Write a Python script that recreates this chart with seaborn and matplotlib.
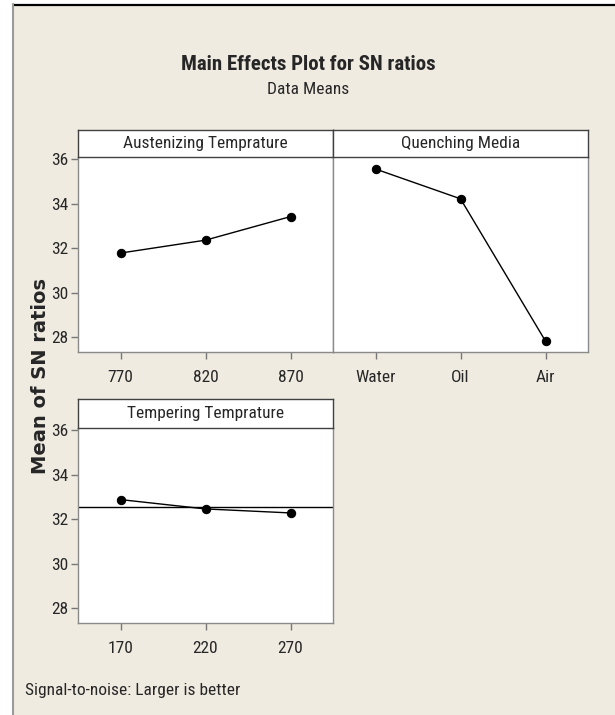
import numpy as np
import pandas as pd
import matplotlib
matplotlib.use('Agg')
import matplotlib.pyplot as plt
import seaborn as sns
from matplotlib import font_manager
from matplotlib.patches import Rectangle
from matplotlib.lines import Line2D

# --- data ---
austenizing_levels = ['770', '820', '870']
austenizing_sn = [31.78, 32.36, 33.42]
quenching_levels = ['Water', 'Oil', 'Air']
quenching_sn = [35.56, 34.22, 27.82]
tempering_levels = ['170', '220', '270']
tempering_sn = [32.88, 32.46, 32.28]
y_ticks = [28, 30, 32, 34, 36]

sns.set_theme(style='white')

# pick a narrow face if one is there, Minitab uses a condensed Tahoma look
installed = {f.name for f in font_manager.fontManager.ttflist}
narrow = None
for cand in ['Liberation Sans Narrow', 'Roboto Condensed', 'Open Sans Condensed',
             'Noto Sans Condensed', 'DejaVu Sans Condensed', 'Liberation Sans']:
    if cand in installed:
        narrow = cand
        break
plt.rcParams['font.family'] = [narrow or 'DejaVu Sans', 'DejaVu Sans']
is_narrow = narrow is not None and narrow != 'Liberation Sans'
fs = 12.5 if is_narrow else 10.5

BG = '#EFEBE1'
W, H = 615, 715
fig = plt.figure(figsize=(6.15, 7.15), dpi=100, facecolor='white')


def box(x0, y0, x1, y1):
    # pixel box (top-left origin) -> figure fraction rect
    return [x0 / W, 1 - y1 / H, (x1 - x0) / W, (y1 - y0) / H]


# window-like frame
fig.patches.append(Rectangle((13 / W, 0), 1 - 13 / W, 1 - 4 / H, transform=fig.transFigure,
                             facecolor=BG, edgecolor='none', zorder=-10))
fig.lines.append(Line2D([13 / W, 1], [1 - 4.5 / H] * 2, color='black', lw=1.6,
                        transform=fig.transFigure, zorder=-5))
fig.lines.append(Line2D([13 / W] * 2, [0, 1 - 4 / H], color='#9a9a9a', lw=1.5,
                        transform=fig.transFigure, zorder=-5))

grand_mean = np.mean(austenizing_sn + quenching_sn + tempering_sn)


def panel(px, strip_h, name, levels, values, show_y, mean_line=False):
    x0, y0, x1, y1 = px
    ax = fig.add_axes(box(x0, y0 + strip_h, x1, y1))
    df = pd.DataFrame({'level': levels, 'sn': values})
    sns.pointplot(data=df, x='level', y='sn', order=levels, color='black',
                  markers='o', markersize=6, linewidth=1, errorbar=None, ax=ax)
    if mean_line:
        ax.axhline(grand_mean, color='black', lw=1, zorder=1)
    ax.set_facecolor('white')
    ax.set_xlim(-0.5, 2.5)
    ax.set_ylim(27.33, 36.1)
    ax.set_yticks(y_ticks)
    ax.set_xlabel('')
    ax.set_ylabel('')
    for s in ax.spines.values():
        s.set_color('#8a8a8a')
        s.set_linewidth(1)
    ax.spines['top'].set_visible(False)
    ax.tick_params(axis='x', bottom=True, direction='out', length=5, width=1,
                   color='#777777', labelsize=fs, pad=8)
    ax.tick_params(axis='y', left=show_y, labelleft=show_y, direction='out', length=5,
                   width=1, color='#777777', labelsize=fs, pad=2)

    sax = fig.add_axes(box(x0, y0, x1, y0 + strip_h))
    sax.set_facecolor('white')
    sax.set_xticks([])
    sax.set_yticks([])
    for s in sax.spines.values():
        s.set_color('#404040')
        s.set_linewidth(1)
    sax.text(0.5, 0.5, name, ha='center', va='center', fontsize=fs, transform=sax.transAxes)
    return ax


panel((78, 130, 333, 352), 27, 'Austenizing Temprature', austenizing_levels, austenizing_sn, True)
panel((333, 130, 588, 352), 27, 'Quenching Media', quenching_levels, quenching_sn, False)
panel((78, 399, 333, 623), 29, 'Tempering Temprature', tempering_levels, tempering_sn, True,
      mean_line=True)

fig.text(308 / W, 1 - 64 / H, 'Main Effects Plot for SN ratios', ha='center', va='center',
         fontsize=15 if is_narrow else 13.5, fontweight='bold')
fig.text(308 / W, 1 - 89 / H, 'Data Means', ha='center', va='center', fontsize=fs)
fig.text(41 / W, 1 - 376 / H, 'Mean of SN ratios', ha='center', va='center', rotation=90,
         fontsize=14, fontweight='bold', family='DejaVu Sans')
fig.text(25 / W, 1 - 690 / H, 'Signal-to-noise: Larger is better', ha='left', va='center',
         fontsize=fs)

fig.savefig('out.png', dpi=100, facecolor=fig.get_facecolor())
